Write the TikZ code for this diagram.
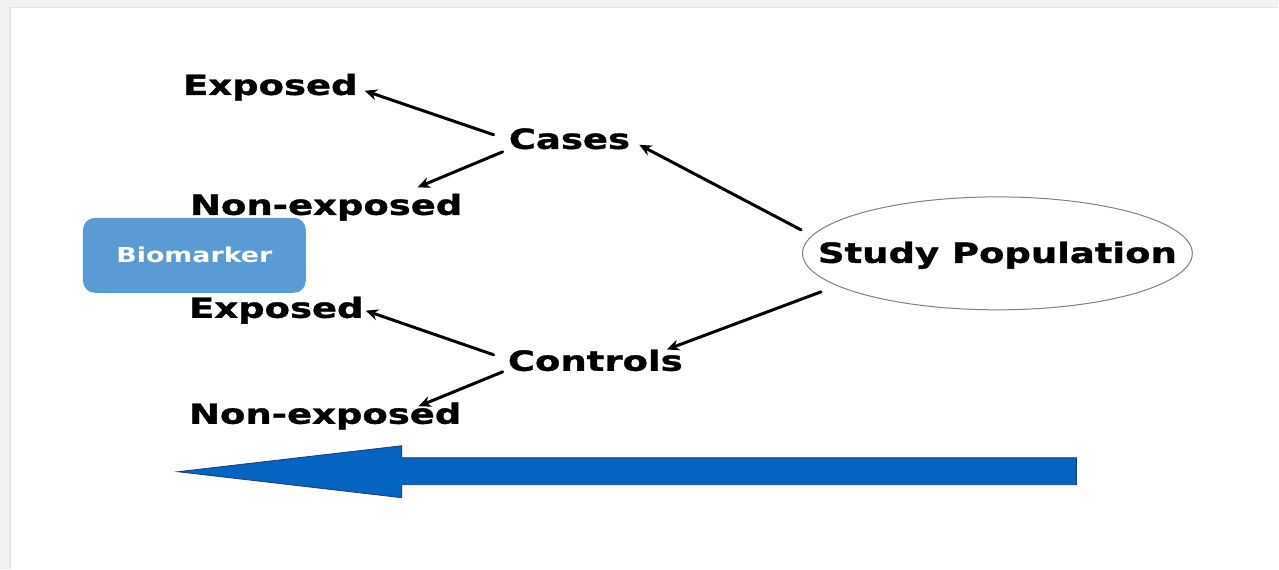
\documentclass[tikz,border=0pt]{standalone}
\usepackage{fontspec}
\usetikzlibrary{arrows.meta,shapes.geometric,calc}
\newfontfamily\labelfont{DejaVu Sans}[FakeStretch=1.33,FakeBold=1.2]
\newfontfamily\boxfont{DejaVu Sans}[FakeStretch=1.31]

\definecolor{framegrey}{RGB}{242,242,242}
\definecolor{frameline}{RGB}{228,228,228}
\definecolor{biofill}{RGB}{91,155,213}
\definecolor{bigarrow}{RGB}{5,99,193}
\definecolor{bigarrowedge}{RGB}{30,60,110}
\definecolor{ellipseedge}{RGB}{128,128,128}

\begin{document}
\begin{tikzpicture}[x=1pt,y=-1pt,
  lbl/.style={font=\labelfont\bfseries\fontsize{27.8}{30}\selectfont,
              inner sep=0pt, anchor=base west},
  conn/.style={line width=3pt, line cap=round,
               -{Stealth[length=12.5pt,width=11pt]}},
  biobox/.style={fill=biofill, rounded corners=12pt, inner sep=0pt,
                 minimum width=223pt, minimum height=75pt, text=white,
                 font=\boxfont\bfseries\fontsize{20.5}{24}\selectfont},
  popshape/.style={ellipse, draw=ellipseedge, line width=1pt, inner sep=0pt,
                   minimum width=390pt, minimum height=113pt,
                   font=\labelfont\bfseries\fontsize{27.8}{30}\selectfont},
  flow/.style={fill=bigarrow, draw=bigarrowedge, line width=0.8pt}
]
% slide frame
\fill[framegrey] (0,0) rectangle (1279,569);
\fill[white] (11,8) rectangle (1279,569);
\draw[frameline, line width=1.5pt] (10,569) -- (10,7.5) -- (1279,7.5);
\useasboundingbox (0,0) rectangle (1279,569);

% labels
\node[lbl] (exp1) at (183,95) {Exposed};
\node[lbl] (cases) at (509,149) {Cases};
\node[lbl] (nonexp1) at (190,215) {Non-exposed};
\node[lbl] (exp2) at (189,318) {Exposed};
\node[lbl] (controls) at (508,371) {Controls};
\node[lbl] (nonexp2) at (189,424) {Non-exposed};

\node[biobox] (bio) at (194.5,255.5) {Biomarker};
\node[popshape] (study) at (998,253.5)
  {\makebox[0pt]{\raisebox{-9.5pt}[0pt][0pt]{Study Population}}};

% connectors
\draw[conn] ($(cases.west)+(-15,-4)$) -- ($(exp1.east)+(7,3.5)$);
\draw[conn] ($(cases.west)+(-6,13)$) -- ($(nonexp1.north east)+(-45,-6.2)$);
\draw[conn] ($(study.west)+(-1,-23.5)$) -- ($(cases.east)+(9,6)$);
\draw[conn] ($(study.west)+(19,38.5)$) -- ($(controls.north east)+(-16,0)$);
\draw[conn] ($(controls.west)+(-14,-5.6)$) -- ($(exp2.east)+(2,0.5)$);
\draw[conn] ($(controls.west)+(-5,11.4)$) -- ($(nonexp2.north east)+(-43,3.8)$);

% block arrow along the bottom
\path[flow] (1077,458) -- (402,458) -- (402,446) -- (178,472)
  -- (402,498) -- (402,485) -- (1077,485) -- cycle;
\end{tikzpicture}
\end{document}
